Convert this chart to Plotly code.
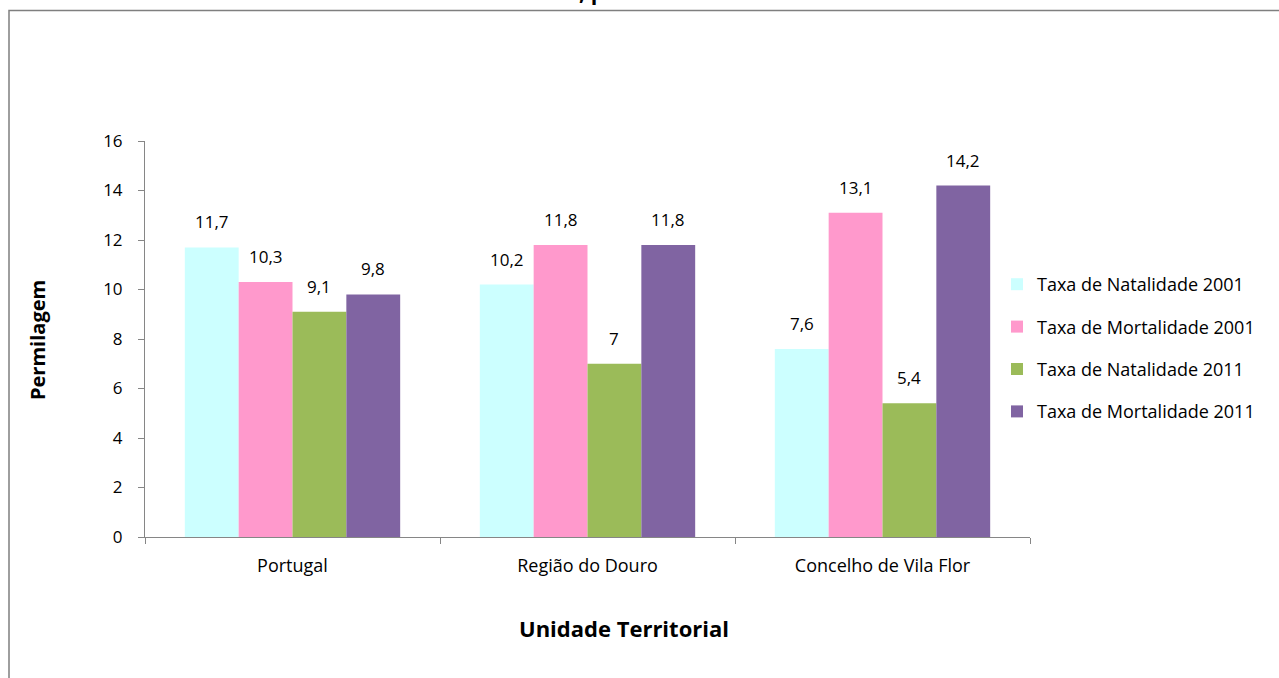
import plotly.graph_objects as go

categories = ["Portugal", "Região do Douro", "Concelho de Vila Flor"]
series_names = ["Taxa de Natalidade 2001", "Taxa de Mortalidade 2001",
                "Taxa de Natalidade 2011", "Taxa de Mortalidade 2011"]
nat_2001 = [11.7, 10.2, 7.6]
mort_2001 = [10.3, 11.8, 13.1]
nat_2011 = [9.1, 7.0, 5.4]
mort_2011 = [9.8, 11.8, 14.2]
series_values = [nat_2001, mort_2001, nat_2011, mort_2011]
colors = ["#CCFFFF", "#FF99CC", "#9BBB59", "#8064A2"]
y_ticks = [0, 2, 4, 6, 8, 10, 12, 14, 16]

W, H = 1279, 678
L, R, T, B = 145, 249, 141, 141
plot_w = W - L - R
plot_h = H - T - B
bargap = 0.27
FONT = "Open Sans, sans-serif"
FS = 18

fig = go.Figure()
for i, (name, vals, col) in enumerate(zip(series_names, series_values, colors)):
    fig.add_trace(go.Bar(
        x=categories, y=vals, name=name, marker=dict(color=col, line=dict(width=0)),
        legendgroup=name,
    ))

cat_w = plot_w / len(categories)
bar_w = cat_w * (1 - bargap) / len(series_names)
for i, vals in enumerate(series_values):
    for c, v in zip(categories, vals):
        fig.add_annotation(
            x=c, y=v, xref="x", yref="y", text=f"{v:g}".replace(".", ","),
            showarrow=False, yanchor="bottom", yshift=12,
            xshift=(i - (len(series_names) - 1) / 2) * bar_w,
            font=dict(family=FONT, size=17, color="#000000"),
        )

def px_to_paper_x(px):
    return (px - L) / plot_w

def px_to_paper_y(py):
    return (H - B - py) / plot_h

# outer frame
fig.add_shape(type="rect", xref="paper", yref="paper",
              x0=px_to_paper_x(9), x1=px_to_paper_x(1300),
              y0=px_to_paper_y(700), y1=px_to_paper_y(10.5),
              line=dict(color="#7F7F7F", width=1.5), layer="below")

# title (cut off at top)
fig.add_annotation(
    xref="paper", yref="paper", x=px_to_paper_x(90), y=px_to_paper_y(7.8),
    xanchor="left", yanchor="bottom", showarrow=False,
    text="<b>Gráfico 4 - Taxas de Natalidade e Mortalidade, por unidade territorial</b>",
    font=dict(family=FONT, size=21.5, color="#000000"),
)

# axis titles
fig.add_annotation(
    xref="paper", yref="paper", x=px_to_paper_x(624), y=px_to_paper_y(628),
    xanchor="center", yanchor="middle", showarrow=False,
    text="<b>Unidade Territorial</b>",
    font=dict(family=FONT, size=22, color="#000000"),
)
fig.add_annotation(
    xref="paper", yref="paper", x=px_to_paper_x(37), y=px_to_paper_y(340),
    xanchor="center", yanchor="middle", showarrow=False, textangle=-90,
    text="<b>Permilagem</b>",
    font=dict(family=FONT, size=20, color="#000000"),
)

fig.update_layout(
    width=W, height=H,
    margin=dict(l=L, r=R, t=T, b=B, autoexpand=False),
    paper_bgcolor="white", plot_bgcolor="white",
    barmode="group", bargap=bargap, bargroupgap=0,
    separators=",.",
    showlegend=True,
    legend=dict(
        x=px_to_paper_x(997), y=px_to_paper_y(266), xanchor="left", yanchor="top",
        font=dict(family=FONT, size=FS, color="#000000"),
        tracegroupgap=16, itemwidth=30, bgcolor="rgba(0,0,0,0)",
    ),
    xaxis=dict(
        showline=True, linecolor="#868686", linewidth=1,
        ticks="outside", ticklen=6, tickcolor="#868686", tickson="boundaries",
        tickfont=dict(family=FONT, size=FS, color="#000000"),
        showgrid=False, zeroline=False, ticklabelstandoff=12,
    ),
    yaxis=dict(
        range=[0, 16], tickvals=y_ticks, showline=True, linecolor="#868686", linewidth=1,
        ticks="outside", ticklen=6, tickcolor="#868686",
        tickfont=dict(family=FONT, size=17, color="#000000"),
        showgrid=False, zeroline=False, ticklabelstandoff=12,
    ),
)

fig.write_html("out.html")
